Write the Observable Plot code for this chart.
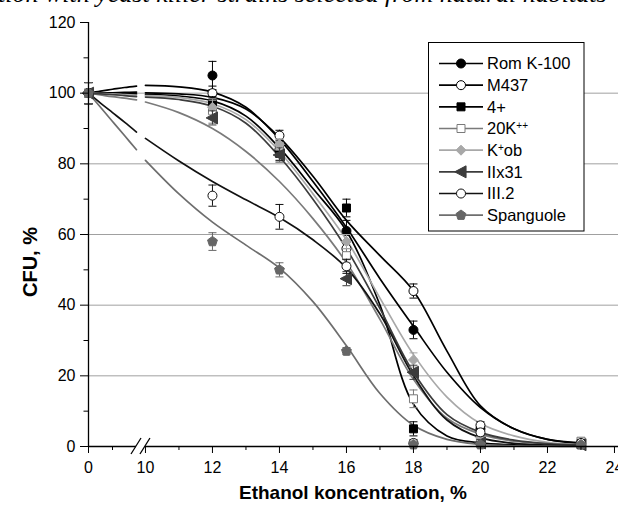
<!DOCTYPE html>
<html><head><meta charset="utf-8">
<script src="https://cdn.jsdelivr.net/npm/d3@7"></script>
<script src="https://cdn.jsdelivr.net/npm/@observablehq/plot@0.6"></script>
<style>
body{margin:0;background:#fff;}
#wrap{position:relative;width:618px;height:509px;overflow:hidden;font-family:"Liberation Sans",Arial,sans-serif;}
#top{position:absolute;left:-2px;top:-21px;font-family:"Liberation Serif","Times New Roman",serif;font-style:italic;font-size:26px;white-space:nowrap;color:#000;}
#xt{position:absolute;left:0;width:618px;padding-left:88px;box-sizing:border-box;text-align:center;top:482px;font-weight:bold;font-size:19px;}
#yt{position:absolute;left:30px;top:262px;transform:translate(-50%,-50%) rotate(-90deg);font-weight:bold;font-size:20px;white-space:nowrap;}
#chart{position:absolute;left:0;top:0;}
</style></head><body>
<div id="wrap">
<div id="chart"></div>
<div id="top">tion with yeast killer strains selected from natural habitats</div>
<div id="xt">Ethanol koncentration, %</div>
<div id="yt">CFU, %</div>
</div>
<script>
// ---------- data ----------
const seriesNames = ["Rom K-100","M437","4+","20K++","K+ob","IIx31","III.2","Spanguole"];
const xMeasured = [0,12,14,16,18,20,23];

const romK100 = [100,105,84,61,33,5,1];
const m437 = [100,100,88,56,44,6,1];
const fourPlus = [100,97,83,67.5,5,1,0.5];
const k20 = [100,95,85,54,13.5,1.5,1.5];
const kob = [100,96,85.5,58,24.5,2.5,1];
const iix31 = [100,93,82.5,47.5,21,1,0.5];
const iii2 = [100,71,65,51,1,4,1];
const spanguole = [100,58,50,27,0.5,0.5,0.5];

const romK100Err = [3,4,2,3,2.5,1,1];
const m437Err = [3,2,1.5,2,2,1,1];
const fourPlusErr = [3,2,2,2.5,2,1,0.5];
const k20Err = [3,3.5,2,2,2.5,1,1];
const kobErr = [3,2,1.5,2,2,1,1];
const iix31Err = [3,2,2,2,2,1,0.5];
const iii2Err = [3,3,3.5,2,1,1,1];
const spanguoleErr = [3,2.5,2,1,0.5,0.5,0.5];

// fitted curves (left of the axis break, and right of it)
const curveLeftX = [0,0.5,1,1.5,2];
const curveRightX = [10,11,12,13,14,15,16,17,18,19,20,21,22,23];

const romK100Left = [100,100.6,101.1,101.6,102];
const m437Left = [100,100.05,100.1,100.2,100.3];
const fourPlusLeft = [100,100,99.95,99.9,99.8];
const k20Left = [100,99.5,99.0,98.6,98.1];
const kobLeft = [100,99.9,99.8,99.6,99.4];
const iix31Left = [100,99.8,99.6,99.3,99.0];
const iii2Left = [100,97.2,94.5,91.8,89];
const spanguoleLeft = [100,96,92,88,84];

const romK100Right = [102.2,101.8,100.3,96,87,75,62,47.5,34,21,11,5,2,0.8];
const m437Right = [100.1,99.8,98.8,95.5,87.5,76.5,64,54,44,27,11.5,5,2,1];
const fourPlusRight = [99.7,99.2,97.8,93.5,84.5,73,61,40,12,3,1,0.5,0.3,0.2];
const k20Right = [97.5,94.5,90,83.5,75,64.5,52,36,19,8,3.5,1.5,0.8,0.5];
const kobRight = [99.3,98.8,97,92.5,83.5,71.5,58.5,42,26,14,6.5,3,1.2,0.5];
const iix31Right = [98.9,98.2,96.3,91.5,82,70,56,39,21,9,4,1.8,0.8,0.4];
const iii2Right = [87.2,80.8,75,69.8,64.8,58.5,50.5,37.5,20,7.5,2.5,0.9,0.4,0.2];
const spanguoleRight = [81,71.5,63.5,57,50.5,41,28.5,15,6,2,0.6,0.2,0.1,0];

const xMajorTicks = [0,10,12,14,16,18,20,22,24];
const xMinorTicks = [1,11,13,15,17,19,21,23];
const yMajorTicks = [0,20,40,60,80,100,120];
const yMinorTicks = [10,30,50,70,90,110];
const yGrid = [20,40,60,80,100];

// ---------- styles ----------
const lineColors = ["#000000","#000000","#000000","#7a7a7a","#a8a8a8","#3c3c3c","#111111","#6e6e6e"];
const markerFills = ["#000000","#ffffff","#000000","#ffffff","#a8a8a8","#3c3c3c","#ffffff","#666666"];
const markerStrokes = ["#000000","#000000","#000000","#7a7a7a","#a8a8a8","#3c3c3c","#111111","#666666"];

const triLeft = {draw(ctx, size){ const r = Math.sqrt(size/1.6); ctx.moveTo(-r,0); ctx.lineTo(r*0.8,-r*0.95); ctx.lineTo(r*0.8,r*0.95); ctx.closePath(); }};
const pentagon = {draw(ctx, size){ const r = Math.sqrt(size/2.378); for(let k=0;k<5;k++){ const a=-Math.PI/2+k*2*Math.PI/5; const px=r*Math.cos(a), py=r*Math.sin(a); if(k===0) ctx.moveTo(px,py); else ctx.lineTo(px,py);} ctx.closePath(); }};
const symbols = [d3.symbolCircle,d3.symbolCircle,d3.symbolSquare,d3.symbolSquare,d3.symbolDiamond2,triLeft,d3.symbolCircle,pentagon];

// ---------- broken x axis: 0..2 compressed, then 10..24 ----------
const BREAK_LEFT = 2, BREAK_RIGHT = 10, LEFT_RATIO = 24/33.5, GAP = 1.7 - 2*24/33.5;
const u = x => x <= BREAK_LEFT ? x*LEFT_RATIO : BREAK_LEFT*LEFT_RATIO + GAP + (x - BREAK_RIGHT);
const U_MAX = 15.82;

const measured = [romK100,m437,fourPlus,k20,kob,iix31,iii2,spanguole];
const errs = [romK100Err,m437Err,fourPlusErr,k20Err,kobErr,iix31Err,iii2Err,spanguoleErr];
const lefts = [romK100Left,m437Left,fourPlusLeft,k20Left,kobLeft,iix31Left,iii2Left,spanguoleLeft];
const rights = [romK100Right,m437Right,fourPlusRight,k20Right,kobRight,iix31Right,iii2Right,spanguoleRight];

const marks = [];
marks.push(Plot.ruleY(yGrid, {stroke:"#a0a0a0", strokeWidth:1}));
seriesNames.forEach((name,i)=>{
  const rows = [];
  curveLeftX.forEach((x,j)=>rows.push({k:"L", u:u(x), y:lefts[i][j]}));
  curveRightX.forEach((x,j)=>rows.push({k:"R", u:u(x), y:rights[i][j]}));
  marks.push(Plot.line(rows, {x:"u", y:"y", z:"k", stroke:lineColors[i], strokeWidth:1.7, curve:"catmull-rom"}));
});
seriesNames.forEach((name,i)=>{
  const rows = xMeasured.map((x,j)=>({u:u(x), y:measured[i][j], e:errs[i][j]}));
  marks.push(Plot.ruleX(rows, {x:"u", y1:d=>d.y-d.e, y2:d=>d.y+d.e, stroke:markerStrokes[i], strokeWidth:1}));
  marks.push(Plot.link(rows, {x1:d=>d.u-0.12, x2:d=>d.u+0.12, y1:d=>d.y+d.e, y2:d=>d.y+d.e, stroke:markerStrokes[i], strokeWidth:1}));
  marks.push(Plot.link(rows, {x1:d=>d.u-0.12, x2:d=>d.u+0.12, y1:d=>d.y-d.e, y2:d=>d.y-d.e, stroke:markerStrokes[i], strokeWidth:1}));
  marks.push(Plot.dot(rows, {x:"u", y:"y", r:4.5, symbol:symbols[i], fill:markerFills[i], stroke:markerStrokes[i], strokeWidth:1}));
});
const labelOf = new Map(xMajorTicks.map(t=>[u(t), String(t)]));
marks.push(Plot.axisY({ticks:yMajorTicks, tickSize:8, tickPadding:5, label:null, fontSize:16}));
marks.push(Plot.axisY({ticks:yMinorTicks, tickSize:4.5, text:null, label:null}));
marks.push(Plot.axisX({ticks:xMajorTicks.map(u), tickSize:7, tickPadding:8, tickFormat:d=>labelOf.get(d), label:null, fontSize:16}));
marks.push(Plot.axisX({ticks:xMinorTicks.map(u), tickSize:4, text:null, label:null}));
marks.push(Plot.ruleX([0], {y1:0, y2:120, stroke:"#000", strokeWidth:1.3}));
marks.push(Plot.ruleY([0], {x1:0, x2:u(BREAK_LEFT), stroke:"#000", strokeWidth:1.3}));
marks.push(Plot.ruleY([0], {x1:u(BREAK_RIGHT), x2:U_MAX, stroke:"#000", strokeWidth:1.3}));

const plot = Plot.plot({
  width:618, height:509,
  marginLeft:88, marginRight:0, marginTop:22, marginBottom:63,
  x:{domain:[0,U_MAX]},
  y:{domain:[0,120]},
  style:{fontFamily:"'Liberation Sans', Arial, sans-serif", fontSize:"16px", color:"#000", background:"transparent", overflow:"visible"},
  marks
});
document.getElementById("chart").appendChild(plot);

const sx = plot.scale("x"), sy = plot.scale("y");
const svg = d3.select(plot);
const y0 = sy.apply(0);
[u(BREAK_LEFT), u(BREAK_RIGHT)].forEach(v=>{
  const cx = sx.apply(v);
  svg.append("line").attr("x1",cx-5).attr("y1",y0+8).attr("x2",cx+5).attr("y2",y0-8).attr("stroke","#000").attr("stroke-width",1.3);
});

// legend
const legendParts = [[["Rom K-100",false]],[["M437",false]],[["4+",false]],[["20K",false],["++",true]],[["K",false],["+",true],["ob",false]],[["IIx31",false]],[["III.2",false]],[["Spanguole",false]]];
const lg = svg.append("g").attr("text-anchor","start");
lg.append("rect").attr("x",428.5).attr("y",42.5).attr("width",155.5).attr("height",188.5).attr("fill","#fff").attr("stroke","#000").attr("stroke-width",1);
seriesNames.forEach((name,i)=>{
  const y = 63.5 + i*21.67;
  lg.append("line").attr("x1",439).attr("x2",483).attr("y1",y).attr("y2",y).attr("stroke",lineColors[i]).attr("stroke-width",1.7);
  lg.append("path").attr("transform",`translate(461,${y})`).attr("d",d3.symbol(symbols[i],64)()).attr("fill",markerFills[i]).attr("stroke",markerStrokes[i]);
  const t = lg.append("text").attr("x",487).attr("y",y).attr("dy","0.36em").attr("fill","#000").attr("text-anchor","start").style("font-size","16.5px");
  legendParts[i].forEach(([s,sup])=>{
    const ts = t.append("tspan").text(s);
    if(sup) ts.style("font-size","10px").attr("baseline-shift","55%");
  });
});
</script>
</body></html>
